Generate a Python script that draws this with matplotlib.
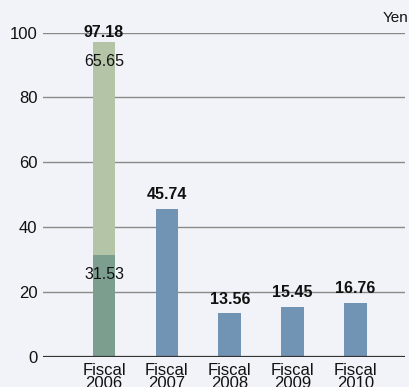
#!/usr/bin/python3

# dividends per share by fiscal year, 2006 split into two parts

import matplotlib.pyplot as plt

years = ['Fiscal\n2006', 'Fiscal\n2007', 'Fiscal\n2008', 'Fiscal\n2009', 'Fiscal\n2010']
values = [97.18, 45.74, 13.56, 15.45, 16.76]
lower_2006 = 31.53
upper_2006 = 65.65
yticks = [0, 20, 40, 60, 80, 100]

bg = '#f2f3f8'
blue = '#7294b4'
dark_green = '#7b9e8f'
light_green = '#b4c5a7'

plt.rcParams['font.family'] = ['Liberation Sans', 'DejaVu Sans']

fig = plt.figure(figsize=(4.1, 3.87), dpi=100, facecolor=bg)
ax = fig.add_axes([0.105, 0.0775, 0.883, 0.8385], facecolor=bg)

x = list(range(len(years)))
width = 0.36

# 2006 is stacked, the rest are plain bars
ax.bar(x[0], lower_2006, width, color=dark_green, zorder=3)
ax.bar(x[0], upper_2006, width, bottom=lower_2006, color=light_green, zorder=3)
ax.bar(x[1:], values[1:], width, color=blue, zorder=3)

# value labels (the tall 2006 bar keeps its label under the 100 line)
for i, v in enumerate(values):
    gap = 0.4 if i == 0 else 2.0
    ax.text(i, v + gap, f'{v:.2f}', ha='center', va='bottom',
            fontsize=11.5, fontweight='bold', color='#111111', zorder=4)
ax.text(0, lower_2006 + upper_2006 - 6, f'{upper_2006:.2f}', ha='center',
        va='center', fontsize=11.5, color='#111111', zorder=4)
ax.text(0, lower_2006 - 6, f'{lower_2006:.2f}', ha='center',
        va='center', fontsize=11.5, color='#111111', zorder=4)

ax.set_xlim(-0.968, 4.786)
ax.set_ylim(0, 100)
ax.set_yticks(yticks)
ax.set_xticks(x)
ax.set_xticklabels(years, fontsize=12, linespacing=0.9)
ax.tick_params(axis='y', length=0, pad=4, labelsize=12, colors='#111111')
ax.tick_params(axis='x', length=0, pad=4, colors='#111111')

# grid lines
ax.grid(axis='y', color='#8a8a8a', linewidth=1.0, zorder=1)
ax.axhline(0, color='#333333', linewidth=1.6, zorder=4)
for s in ['top', 'right', 'bottom', 'left']:
    ax.spines[s].set_visible(False)

fig.text(0.997, 0.953, 'Yen', ha='right', va='center', fontsize=11,
         color='#111111')

fig.savefig('out.png', dpi=100, facecolor=bg)
